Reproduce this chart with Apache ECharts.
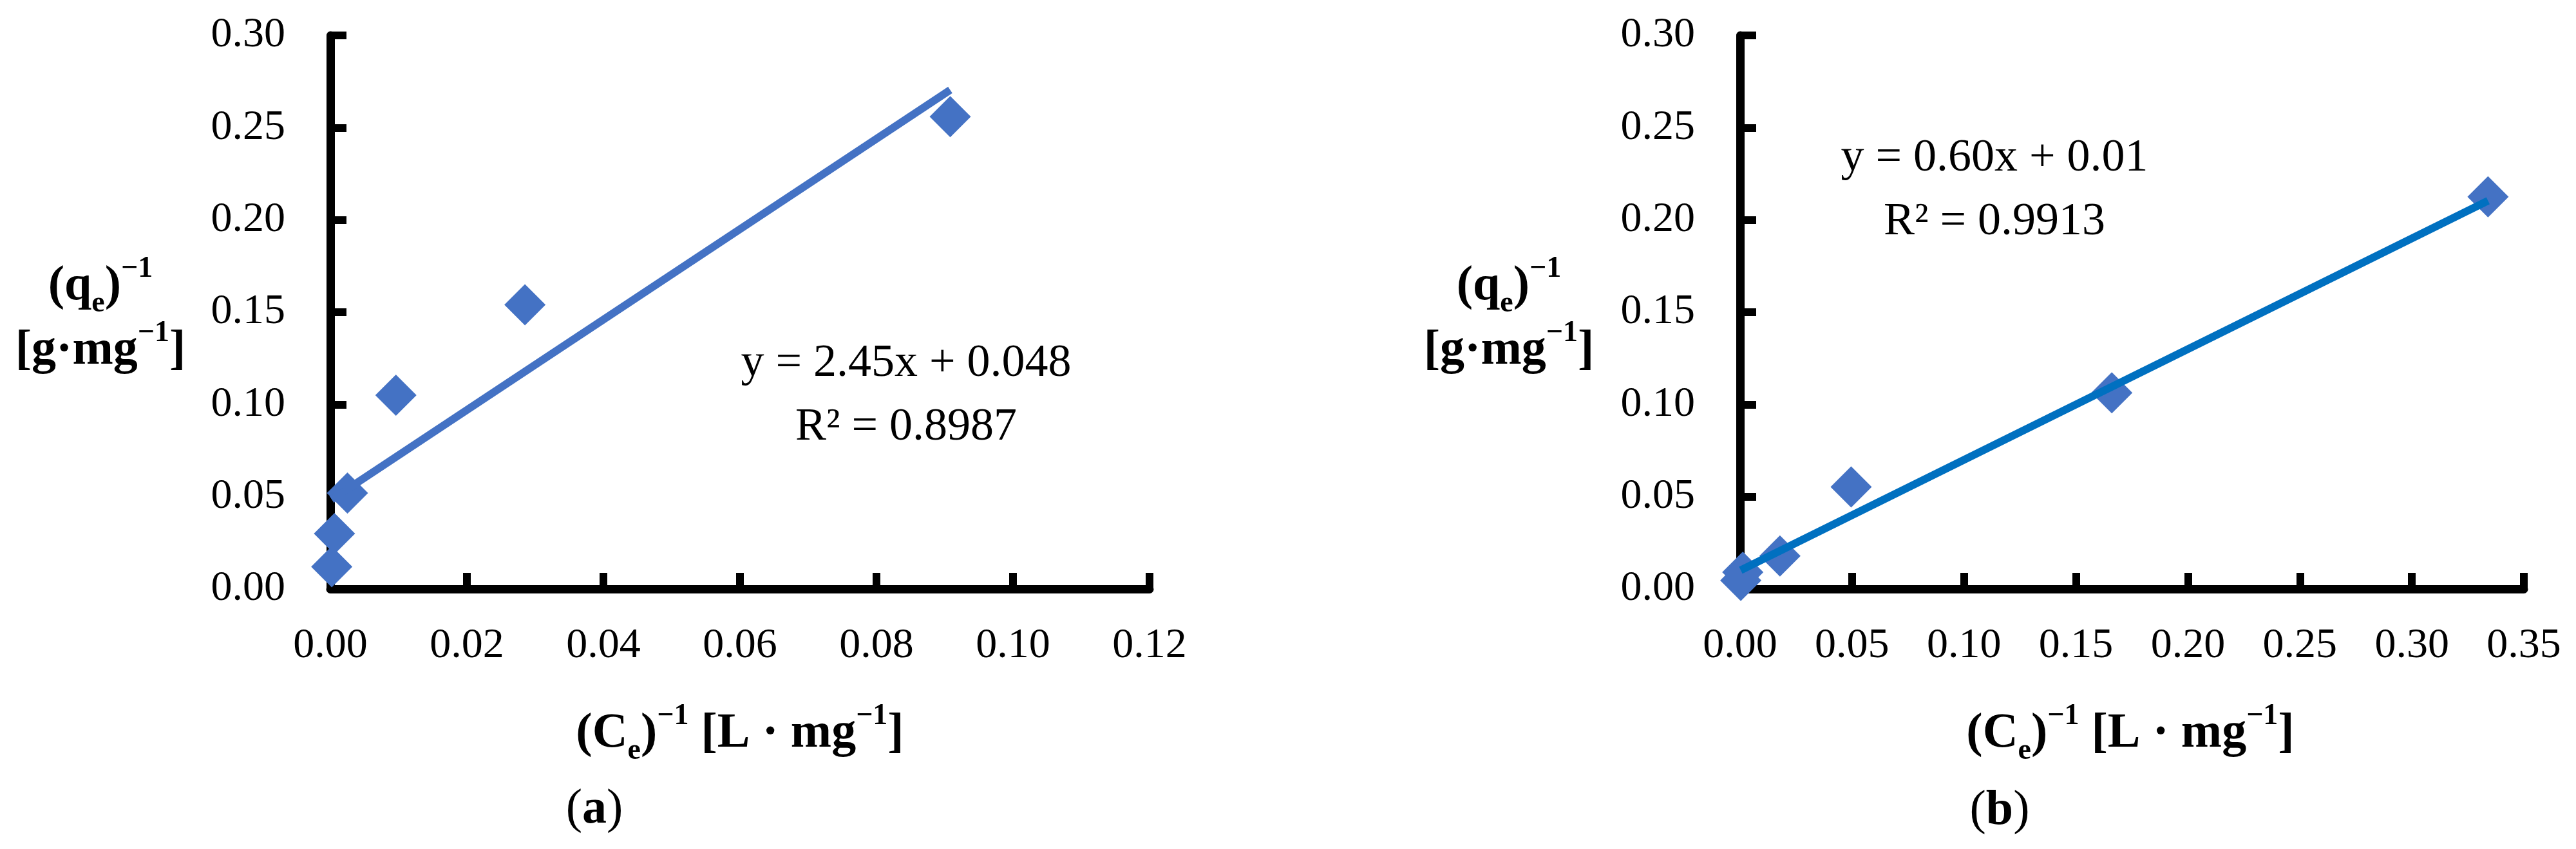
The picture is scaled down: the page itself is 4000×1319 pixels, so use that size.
<!DOCTYPE html>
<html>
<head>
    <meta charset="utf-8" />
    <title>Langmuir linear plots</title>
    <style>
        html, body { margin: 0; padding: 0; background: #fff; }
        #chart { width: 4000px; height: 1319px; }
    </style>
</head>
<body>
    <div id="chart"></div>
    <script type="text/javascript" src="https://cdn.jsdelivr.net/npm/echarts@6.0.0/dist/echarts.min.js"></script>
    <script type="text/javascript">
        // (a) data: (Ce)^-1 vs (qe)^-1
        const xA = [0.0002, 0.0006, 0.0025, 0.0096, 0.0285, 0.0908];
        const yA = [0.012, 0.030, 0.052, 0.105, 0.154, 0.256];
        // (b) data
        const xB = [0.0003, 0.0012, 0.0178, 0.0496, 0.166, 0.334];
        const yB = [0.0046, 0.0091, 0.0179, 0.0553, 0.1063, 0.2125];
        // trendline coefficients, as printed on the chart
        const fitA = [2.45, 0.048];
        const fitB = [0.60, 0.01];
        const eqA = ['y = 2.45x + 0.048', 'R² = 0.8987'];
        const eqB = ['y = 0.60x + 0.01', 'R² = 0.9913'];
        // axis ranges
        const xAxisA = { min: 0, max: 0.12, interval: 0.02 };
        const xAxisB = { min: 0, max: 0.35, interval: 0.05 };
        const yAxisAB = { min: 0, max: 0.30, interval: 0.05 };

        const FONT = "'Liberation Serif', 'Times New Roman', serif";
        const BLUE = '#4472C4';

        const pts = (xs, ys) => xs.map((x, i) => [x, ys[i]]);
        // trendline spans the data range in x
        const trend = (xs, fit) => {
            const lo = Math.min(...xs), hi = Math.max(...xs);
            return [[lo, fit[0] * lo + fit[1]], [hi, fit[0] * hi + fit[1]]];
        };

        const axisCommon = {
            type: 'value',
            splitLine: { show: false },
            axisLine: { show: true, lineStyle: { color: '#000', width: 13 } },
            axisTick: { show: true, inside: true, length: 25, lineStyle: { color: '#000', width: 12 } },
            axisLabel: {
                color: '#000', fontSize: 66, fontFamily: FONT,
                formatter: v => v.toFixed(2)
            }
        };
        const mkX = (idx, r) => Object.assign({}, axisCommon, {
            gridIndex: idx, min: r.min, max: r.max, interval: r.interval,
            axisLabel: Object.assign({}, axisCommon.axisLabel, { margin: 56 })
        });
        const mkY = (idx, r) => Object.assign({}, axisCommon, {
            gridIndex: idx, min: r.min, max: r.max, interval: r.interval,
            axisLabel: Object.assign({}, axisCommon.axisLabel, { margin: 70 })
        });

        // rich text bits for axis titles
        const richTitle = {
            n: { fontSize: 76, fontWeight: 'bold', fontFamily: FONT, fill: '#000', lineHeight: 100 },
            sub: { fontSize: 46, fontWeight: 'bold', fontFamily: FONT, fill: '#000', verticalAlign: 'bottom', lineHeight: 84 },
            sup: { fontSize: 46, fontWeight: 'bold', fontFamily: FONT, fill: '#000', verticalAlign: 'top', lineHeight: 60 }
        };
        const yTitle = '{n|(q}{sub|e}{n|)}{sup|−1}\n{n|[g·mg}{sup|−1}{n|]}';
        const xTitle = '{n|(C}{sub|e}{n|)}{sup|−1}{n| [L · mg}{sup|−1}{n|]}';
        const richTag = {
            p: { fontSize: 76, fontFamily: FONT, fill: '#000' },
            b: { fontSize: 76, fontWeight: 'bold', fontFamily: FONT, fill: '#000' }
        };

        const txt = (x, y, text, rich) => ({
            type: 'text', x: x, y: y, z: 100,
            style: { text: text, align: 'center', verticalAlign: 'middle', rich: rich }
        });
        const eqText = (x, y, lines) => ({
            type: 'text', x: x, y: y, z: 100,
            style: {
                text: lines.join('\n'), align: 'center', verticalAlign: 'middle',
                fontSize: 72, fontFamily: FONT, fill: '#000', lineHeight: 99
            }
        });

        const chart = echarts.init(document.getElementById('chart'));
        chart.setOption({
            backgroundColor: '#fff',
            animation: false,
            grid: [
                { left: 513, top: 55, width: 1272, height: 860, outerBoundsMode: 'none' },
                { left: 2702, top: 55, width: 1217, height: 860, outerBoundsMode: 'none' }
            ],
            xAxis: [mkX(0, xAxisA), mkX(1, xAxisB)],
            yAxis: [mkY(0, yAxisAB), mkY(1, yAxisAB)],
            series: [
                {
                    type: 'scatter', xAxisIndex: 0, yAxisIndex: 0, z: 2,
                    symbol: 'diamond', symbolSize: 64,
                    itemStyle: { color: BLUE, opacity: 1 },
                    data: pts(xA, yA)
                },
                {
                    type: 'line', xAxisIndex: 0, yAxisIndex: 0, z: 3,
                    showSymbol: false, clip: false,
                    lineStyle: { color: BLUE, width: 12 },
                    data: trend(xA, fitA)
                },
                {
                    type: 'scatter', xAxisIndex: 1, yAxisIndex: 1, z: 2,
                    symbol: 'diamond', symbolSize: 64,
                    itemStyle: { color: BLUE, opacity: 1 },
                    data: pts(xB, yB)
                },
                {
                    type: 'line', xAxisIndex: 1, yAxisIndex: 1, z: 3,
                    showSymbol: false, clip: false,
                    lineStyle: { color: '#0070C0', width: 12 },
                    data: trend(xB, fitB)
                }
            ],
            graphic: [
                txt(156, 495, yTitle, richTitle),
                txt(2343, 495, yTitle, richTitle),
                txt(1149, 1140, xTitle, richTitle),
                txt(3308, 1140, xTitle, richTitle),
                txt(923, 1258, '{p|(}{b|a}{p|)}', richTag),
                txt(3105, 1260, '{p|(}{b|b}{p|)}', richTag),
                eqText(1407, 615, eqA),
                eqText(3097, 296, eqB)
            ]
        });
    </script>
</body>
</html>
